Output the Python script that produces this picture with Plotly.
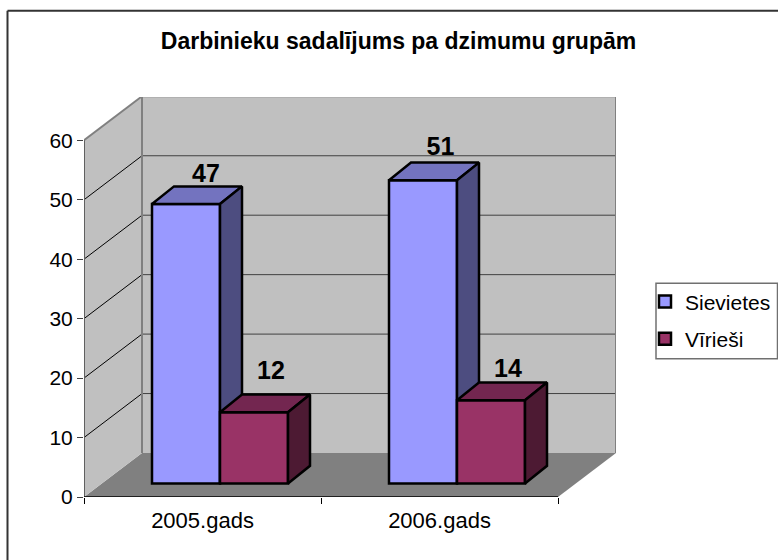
import plotly.graph_objects as go

# --- data ---
categories = ["2005.gads", "2006.gads"]
series_names = ["Sievietes", "Vīrieši"]
sievietes = [47, 51]
virieši = [12, 14]
y_ticks = [0, 10, 20, 30, 40, 50, 60]
title_text = "Darbinieku sadalījums pa dzimumu grupām"

# --- colours ---
FRONT = ["#9999FF", "#993366"]
SIDE = ["#4D4D80", "#4D1A33"]
TOP = ["#7373BF", "#732650"]
WALL = "#C0C0C0"
FLOOR = "#808080"

# --- geometry (pixels -> axis units) ---
W, H = 778, 560
L, R, T, B = 84, 616, 96.7, 496.7
PX_X = 237.0          # pixels per category
PX_Y = 5.945          # pixels per value unit
xmin = -0.5
xmax = xmin + (R - L) / PX_X
ymax = (B - T) / PX_Y
DX, DY = 58 / PX_X, 44 / PX_Y           # depth of the floor
BDX, BDY = 22 / PX_X, 17.7 / PX_Y       # depth of a bar
BASE = 13.5 / PX_Y                      # bars stand on the floor, set back
BAR_W = 68 / PX_X
SHIFT_X = 17.5 / PX_X                   # offset of the bar cluster on the floor
# label nudges in pixels (series -> per category)
LABEL_NUDGE_X = [[-2, -4.5], [-5, -5]]
LABEL_NUDGE_Y = [[-2, 1.5], [9, -1]]
xs = list(range(len(categories)))
x_end = xmin + len(categories)

def px(p):
    return (p - L) / (R - L)

def py(p):
    return (B - p) / (B - T)

fig = go.Figure()
shapes = []

def poly(pts, fill, line=None, width=0):
    path = "M" + "L".join(f"{a},{b}" for a, b in pts) + "Z"
    return dict(type="path", path=path, xref="x", yref="y", layer="below",
                fillcolor=fill, line=dict(color=line or fill, width=width))

def seg(a, b, color, width=1):
    return dict(type="line", xref="x", yref="y", layer="below",
                x0=a[0], y0=a[1], x1=b[0], y1=b[1], line=dict(color=color, width=width))

top_v = y_ticks[-1]
shapes.append(poly([(xmin, 0), (xmin + DX, DY), (x_end + DX, DY), (x_end, 0)], FLOOR))
shapes.append(poly([(xmin, 0), (xmin + DX, DY), (xmin + DX, top_v + DY), (xmin, top_v)], WALL))
shapes.append(poly([(xmin + DX, DY), (x_end + DX, DY), (x_end + DX, top_v + DY), (xmin + DX, top_v + DY)], WALL))
for v in y_ticks[1:-1]:
    shapes.append(seg((xmin, v), (xmin + DX, v + DY), "#000000", 1))
    shapes.append(seg((xmin + DX, v + DY), (x_end + DX, v + DY), "#404040", 1))
shapes.append(seg((xmin, top_v), (xmin + DX, top_v + DY), FLOOR, 2))
shapes.append(seg((xmin + DX, top_v + DY), (x_end + DX, top_v + DY), FLOOR, 2))
shapes.append(seg((xmin + DX, DY), (xmin + DX, top_v + DY), FLOOR, 2))
shapes.append(seg((x_end + DX, DY), (x_end + DX, top_v + DY), FLOOR, 2))
shapes.append(seg((xmin, 0), (xmin, top_v), "#606060", 2))
shapes.append(seg((xmin, 0), (x_end, 0), "#000000", 1.5))
# chart frame
shapes.append(dict(type="line", xref="paper", yref="paper", layer="above",
                   x0=px(7.5), x1=px(7.5), y0=py(570), y1=py(10.5),
                   line=dict(color="#333333", width=2)))
shapes.append(dict(type="line", xref="paper", yref="paper", layer="above",
                   x0=px(7.5), x1=px(790), y0=py(10.5), y1=py(10.5),
                   line=dict(color="#333333", width=2)))
# legend box
shapes.append(dict(type="rect", xref="paper", yref="paper", layer="below",
                   x0=px(656), x1=px(777.5), y0=py(358.5), y1=py(283),
                   fillcolor="#FFFFFF", line=dict(color="#707070", width=1.5)))

for i, (name, values) in enumerate(zip(series_names, [sievietes, virieši])):
    xa, ya = ("x", "y") if i == 0 else ("x2", "y2")
    lefts = [x + SHIFT_X - BAR_W + i * BAR_W for x in xs]
    fig.add_trace(go.Bar(
        x=xs, y=values, base=BASE, width=BAR_W,
        offset=-BAR_W + i * BAR_W + SHIFT_X,
        name=name, legendgroup=name, xaxis=xa, yaxis=ya,
        marker=dict(color=FRONT[i], line=dict(color="#000000", width=2.5)),
        hoverinfo="skip", cliponaxis=False,
    ))
    for x0, v in zip(lefts, values):
        x1 = x0 + BAR_W
        yt = BASE + v
        fig.add_trace(go.Scatter(
            x=[x0, x0 + BDX, x1 + BDX, x1, x0],
            y=[yt, yt + BDY, yt + BDY, yt, yt],
            mode="lines", fill="toself", fillcolor=TOP[i],
            line=dict(color="#000000", width=2.5), showlegend=False,
            hoverinfo="skip", xaxis=xa, yaxis=ya))
        fig.add_trace(go.Scatter(
            x=[x1, x1 + BDX, x1 + BDX, x1, x1],
            y=[yt, yt + BDY, BASE + BDY, BASE, yt],
            mode="lines", fill="toself", fillcolor=SIDE[i],
            line=dict(color="#000000", width=2.5), showlegend=False,
            hoverinfo="skip", xaxis=xa, yaxis=ya))
    fig.add_trace(go.Scatter(
        x=[l + BAR_W / 2 + BDX + n / PX_X for l, n in zip(lefts, LABEL_NUDGE_X[i])],
        y=[BASE + v + BDY + n / PX_Y for v, n in zip(values, LABEL_NUDGE_Y[i])],
        text=[str(v) for v in values], mode="text", textposition="top center",
        textfont=dict(family="Liberation Sans", size=25, color="#000000"),
        texttemplate="<b>%{text}</b>", showlegend=False, hoverinfo="skip",
        xaxis=xa, yaxis=ya))

fam = "Liberation Sans"
fig.update_layout(
    width=W, height=H, autosize=False,
    margin=dict(l=L, r=W - R, t=T, b=H - B, autoexpand=False),
    paper_bgcolor="#FFFFFF", plot_bgcolor="rgba(0,0,0,0)",
    barmode="overlay", showlegend=True, shapes=shapes,
    font=dict(family=fam, size=21, color="#000000"),
    title=dict(text=f"<b>{title_text}</b>", x=398.5 / W, xanchor="center", y=1 - 41 / H, yanchor="middle",
               font=dict(family=fam, size=23, color="#000000")),
    legend=dict(x=px(645), xanchor="left", y=py(281), yanchor="top",
                bgcolor="rgba(0,0,0,0)", borderwidth=0,
                tracegroupgap=7, font=dict(family=fam, size=21, color="#000000")),
    xaxis=dict(range=[xmin, xmax], tickvals=xs, ticktext=categories, ticks="",
               showgrid=False, zeroline=False, showline=False, ticklabelstandoff=8,
               tickfont=dict(family=fam, size=22, color="#000000"),
               minor=dict(tick0=xmin, dtick=1, ticks="outside", ticklen=6, tickcolor="#000000", showgrid=False)),
    yaxis=dict(range=[0, ymax], tickvals=y_ticks, ticks="outside", ticklen=6, tickcolor="#404040",
               showgrid=False, zeroline=False, showline=False,
               tickfont=dict(family=fam, size=21, color="#000000")),
    xaxis2=dict(range=[xmin, xmax], overlaying="x", visible=False),
    yaxis2=dict(range=[0, ymax], overlaying="y", visible=False),
)
fig.write_html("out.html", post_script="document.body.style.margin='0';",
               config={"displayModeBar": False})
